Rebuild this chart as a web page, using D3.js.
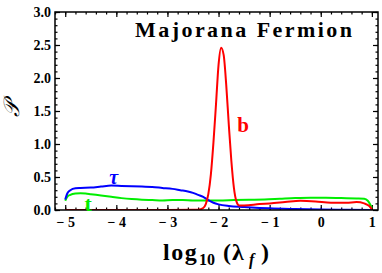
<!DOCTYPE html>
<html>
<head>
<meta charset="utf-8">
<script src="https://cdn.jsdelivr.net/npm/d3@7"></script>
<style>
  body { margin: 0; background: #fff; }
  text { font-family: "Liberation Serif", "DejaVu Serif", serif; }
</style>
</head>
<body>
<div id="chart"></div>
<script>
// data
const xTicks = [-5, -4, -3, -2, -1, 0, 1];
const yTicks = [0, 0.5, 1.0, 1.5, 2.0, 2.5, 3.0];

const bX = [-5.0, -3.0, -2.5, -2.4, -2.3, -2.25, -2.2, -2.15, -2.1, -2.05, -2.0, -1.95, -1.9, -1.85, -1.8, -1.75, -1.7, -1.65, -1.6, -1.5, -1.2, -1.0, -0.7, -0.4, -0.1, 0.2, 0.5, 0.7, 0.85, 0.95, 1.0];
const bY = [0, 0, 0.002, 0.005, 0.03, 0.09, 0.24, 0.54, 1.02, 1.6, 2.2, 2.46, 2.35, 1.9, 1.3, 0.75, 0.34, 0.13, 0.07, 0.07, 0.09, 0.1, 0.12, 0.14, 0.13, 0.11, 0.11, 0.12, 0.1, 0.06, 0.01];

const tauX = [-5.0, -4.96, -4.9, -4.8, -4.7, -4.5, -4.3, -4.1, -3.9, -3.7, -3.5, -3.3, -3.1, -2.9, -2.75, -2.6, -2.5, -2.4, -2.3, -2.2, -2.1, -2.0, -1.8, -1.5, -1.2, -1.0, -0.5, 0, 0.5, 1.0];
const tauY = [0.16, 0.25, 0.3, 0.33, 0.335, 0.34, 0.355, 0.37, 0.365, 0.36, 0.355, 0.35, 0.335, 0.32, 0.3, 0.28, 0.26, 0.23, 0.2, 0.15, 0.11, 0.085, 0.06, 0.045, 0.032, 0.025, 0.015, 0.008, 0.004, 0.0];

const tX = [-5.0, -4.96, -4.9, -4.8, -4.7, -4.6, -4.5, -4.3, -4.1, -3.9, -3.7, -3.5, -3.3, -3.1, -2.9, -2.7, -2.5, -2.2, -2.0, -1.7, -1.4, -1.1, -0.8, -0.5, -0.2, 0.1, 0.4, 0.7, 0.85, 0.92, 0.97, 1.0];
const tY = [0.14, 0.2, 0.23, 0.25, 0.255, 0.25, 0.24, 0.22, 0.2, 0.18, 0.165, 0.155, 0.15, 0.145, 0.15, 0.15, 0.145, 0.145, 0.145, 0.15, 0.155, 0.16, 0.17, 0.18, 0.185, 0.185, 0.18, 0.175, 0.17, 0.14, 0.08, 0.03];

const W = 382, H = 273;
const margin = { top: 12, right: 4, bottom: 63, left: 55 };

const svg = d3.select("#chart").append("svg")
    .attr("width", W)
    .attr("height", H);

const x = d3.scaleLinear().domain([-5.2, 1.12]).range([margin.left, W - margin.right]);
const y = d3.scaleLinear().domain([0, 3]).range([H - margin.bottom, margin.top]);

const fmtX = d => d < 0 ? "\u2212 " + Math.abs(d) : String(d);

// minor ticks
const xMinor = d3.range(-5.2, 1.13, 0.2).map(v => +v.toFixed(1));
const yMinor = d3.range(0, 3.01, 0.1).map(v => +v.toFixed(1));

function axisGroup(axis, tx, ty) {
    const g = svg.append("g").attr("transform", `translate(${tx},${ty})`).call(axis);
    g.select(".domain").remove();
    g.selectAll("line").attr("stroke", "#000").attr("stroke-width", 1.2);
    g.selectAll("text").attr("font-size", 14)
        .attr("font-weight", "bold").attr("fill", "#000");
    return g;
}

// bottom
axisGroup(d3.axisBottom(x).tickValues(xTicks).tickSize(-5).tickPadding(7).tickFormat(fmtX), 0, y(0));
axisGroup(d3.axisBottom(x).tickValues(xMinor).tickSize(-2.5).tickFormat(""), 0, y(0));
// top
axisGroup(d3.axisTop(x).tickValues(xTicks).tickSize(-5).tickFormat(""), 0, y(3));
axisGroup(d3.axisTop(x).tickValues(xMinor).tickSize(-2.5).tickFormat(""), 0, y(3));
// left
axisGroup(d3.axisLeft(y).tickValues(yTicks).tickSize(-5).tickPadding(4).tickFormat(d3.format(".1f")), x.range()[0], 0);
axisGroup(d3.axisLeft(y).tickValues(yMinor).tickSize(-2.5).tickFormat(""), x.range()[0], 0);
// right
axisGroup(d3.axisRight(y).tickValues(yTicks).tickSize(-5).tickFormat(""), x.range()[1], 0);
axisGroup(d3.axisRight(y).tickValues(yMinor).tickSize(-2.5).tickFormat(""), x.range()[1], 0);

// curves
const line = d3.line().x(d => x(d[0])).y(d => y(d[1])).curve(d3.curveMonotoneX);
const series = [
    { xs: tX, ys: tY, color: "#00ee00" },
    { xs: tauX, ys: tauY, color: "#0000ff" },
    { xs: bX, ys: bY, color: "#ff0000" }
];
svg.append("defs").append("clipPath").attr("id", "clip")
    .append("rect")
    .attr("x", x.range()[0]).attr("y", y(3))
    .attr("width", x.range()[1] - x.range()[0])
    .attr("height", y(0) - y(3));

svg.append("g").attr("clip-path", "url(#clip)")
    .selectAll("path")
    .data(series)
    .join("path")
    .attr("d", s => line(d3.zip(s.xs, s.ys)))
    .attr("fill", "none")
    .attr("stroke", s => s.color)
    .attr("stroke-width", 2)
    .attr("stroke-linejoin", "round");

// frame
svg.append("rect")
    .attr("x", x.range()[0]).attr("y", y(3))
    .attr("width", x.range()[1] - x.range()[0])
    .attr("height", y(0) - y(3))
    .attr("fill", "none")
    .attr("stroke", "#000")
    .attr("stroke-width", 1.5);

// curve labels
svg.append("text").attr("x", x(-4.05)).attr("y", 184)
    .attr("text-anchor", "middle").attr("font-size", 20)
    .attr("font-weight", "bold").attr("font-style", "italic")
    .attr("fill", "#0000ff").text("\u03c4");
svg.append("text").attr("x", 243).attr("y", 132)
    .attr("text-anchor", "middle").attr("font-size", 21)
    .attr("font-weight", "bold").attr("fill", "#ff0000").text("b");
svg.append("text").attr("x", x(-4.55)).attr("y", 211)
    .attr("text-anchor", "middle").attr("font-size", 22)
    .attr("font-weight", "bold").attr("fill", "#00ee00").text("t");

// title
svg.append("text").attr("x", 135).attr("y", 37)
    .attr("font-size", 22).attr("font-weight", "bold")
    .attr("textLength", 217).attr("lengthAdjust", "spacing")
    .text("Majorana Fermion");

// axis titles
const xl = svg.append("text").attr("y", 260)
    .attr("font-size", 24).attr("font-weight", "bold");
xl.append("tspan").attr("x", 163).attr("letter-spacing", 1.5).text("log");
xl.append("tspan").attr("x", 199).attr("font-size", 16).attr("dy", 5).attr("letter-spacing", 0).text("10");
xl.append("tspan").attr("x", 223).attr("dy", -5).text("(");
xl.append("tspan").attr("x", 232).text("\u03bb");
xl.append("tspan").attr("x", 249).attr("font-size", 16).attr("dy", 5).attr("font-style", "italic").text("f");
xl.append("tspan").attr("x", 261).attr("dy", -5).text(")");

svg.append("text")
    .attr("transform", "translate(19,109) rotate(-90)")
    .attr("text-anchor", "middle")
    .attr("font-size", 22)
    .attr("font-style", "italic")
    .text("\ud835\udcab");
</script>
</body>
</html>
